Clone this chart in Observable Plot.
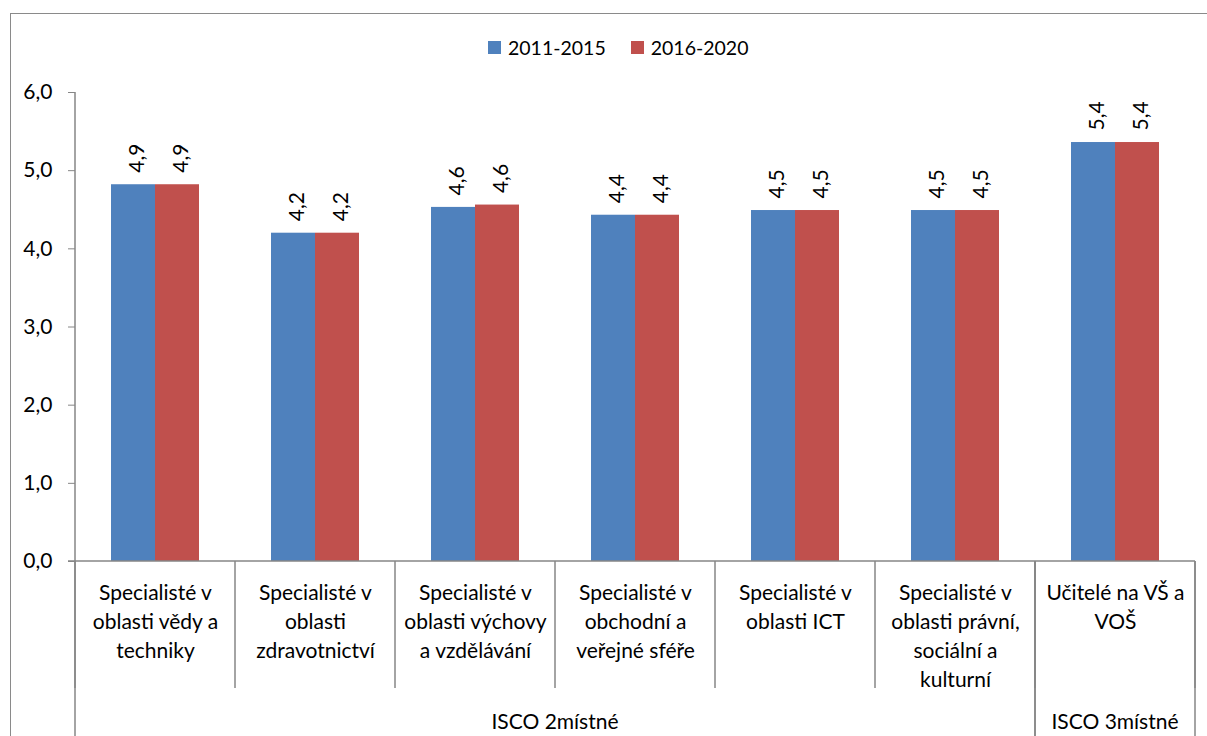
<!DOCTYPE html>
<html><head><meta charset="utf-8">
<script src="https://cdn.jsdelivr.net/npm/d3@7"></script>
<script src="https://cdn.jsdelivr.net/npm/@observablehq/plot@0.6"></script>
<style>
body{margin:0;background:#fff;font-family:Lato,"Open Sans",sans-serif;}
#frame{position:absolute;left:10px;top:13px;width:1300px;height:800px;border:1.5px solid #8a8a8a;box-sizing:border-box;}
#legend{position:absolute;top:36px;left:488px;display:flex;align-items:center;font-size:19.5px;color:#000;}
#legend .item{display:flex;align-items:center;margin-right:25px;}
#legend .sw{width:13px;height:13px;margin-right:7px;}
#chart{position:absolute;left:0;top:70px;}
</style></head>
<body>
<div id="frame"></div>
<div id="legend"></div>
<div id="chart"></div>
<script>
const categories = [
  "Specialisté v\noblasti vědy a\ntechniky",
  "Specialisté v\noblasti\nzdravotnictví",
  "Specialisté v\noblasti výchovy\na vzdělávání",
  "Specialisté v\nobchodní a\nveřejné sféře",
  "Specialisté v\noblasti ICT",
  "Specialisté v\noblasti právní,\nsociální a\nkulturní",
  "Učitelé na VŠ a\nVOŠ"
];
const groupOf = ["ISCO 2místné","ISCO 2místné","ISCO 2místné","ISCO 2místné","ISCO 2místné","ISCO 2místné","ISCO 3místné"];
const groupNames = ["ISCO 2místné","ISCO 3místné"];
const series = ["2011-2015","2016-2020"];
const values2011 = [4.82,4.20,4.53,4.43,4.49,4.49,5.36];
const values2016 = [4.82,4.20,4.56,4.43,4.49,4.49,5.36];
const labels2011 = ["4,9","4,2","4,6","4,4","4,5","4,5","5,4"];
const labels2016 = ["4,9","4,2","4,6","4,4","4,5","4,5","5,4"];
const yTicks = [0,1,2,3,4,5,6];
const colors = ["#4F81BD","#C0504D"];

const data = [];
categories.forEach((c,i)=>{
  data.push({cat:c, series:series[0], value:values2011[i], label:labels2011[i]});
  data.push({cat:c, series:series[1], value:values2016[i], label:labels2016[i]});
});

// legend
const lg = document.getElementById("legend");
series.forEach((s,i)=>{
  const it = document.createElement("div"); it.className="item";
  const sw = document.createElement("div"); sw.className="sw"; sw.style.background=colors[i];
  const tx = document.createElement("span"); tx.textContent=s;
  it.appendChild(sw); it.appendChild(tx); lg.appendChild(it);
});

const axisColor = "#868686";
const fs = 21;
const fmt = d => d.toFixed(1).replace(".", ",");

const plot = Plot.plot({
  width: 1207, height: 666,
  marginLeft: 75, marginRight: 12, marginTop: 22, marginBottom: 175,
  style: {fontFamily: "Lato, 'Open Sans', sans-serif", fontSize: fs + "px", color: "#000", background: "transparent"},
  fx: {domain: categories, padding: 0, axis: null, label: null},
  x: {domain: series, paddingInner: 0, paddingOuter: 0.78, axis: null},
  y: {domain: [0, 6], axis: null},
  color: {domain: series, range: colors},
  marks: [
    Plot.barY(data, {fx: "cat", x: "series", y: "value", fill: "series"}),
    Plot.text(data, {fx: "cat", x: "series", y: "value", text: "label", rotate: -90, textAnchor: "start", dy: -12, dx: 4, fontSize: fs, fill: "#000"}),
    Plot.axisY({ticks: yTicks, tickFormat: fmt, tickSize: 7, tickPadding: 16, stroke: axisColor, fill: "#000", fontSize: fs, label: null}),
    Plot.text(categories, {fx: d => d, text: d => d, frameAnchor: "bottom", lineAnchor: "top", dy: 18, lineHeight: 1.38, fontSize: fs, fill: "#000"})
  ]
});
document.getElementById("chart").appendChild(plot);

// separators and group labels drawn from the plot's scales
const fx = plot.scale("fx");
const y = plot.scale("y");
const y0 = y.apply(0);
const yTop = y.apply(6);
const bw = fx.bandwidth;
const svg = d3.select(plot);
const g = svg.append("g").attr("stroke", axisColor).attr("stroke-width", 1.5);
const left = fx.apply(categories[0]);
const right = fx.apply(categories[categories.length-1]) + bw;
g.append("line").attr("x1", left).attr("x2", left).attr("y1", yTop).attr("y2", y0);
g.append("line").attr("x1", left - 7).attr("x2", right).attr("y1", y0).attr("y2", y0);
const edges = categories.map(c => fx.apply(c)).concat([right]);
edges.forEach(x => {
  g.append("line").attr("x1", x).attr("x2", x).attr("y1", y0).attr("y2", y0 + 127);
});
groupNames.forEach(name => {
  const idx = groupOf.map((gname,i)=>gname===name?i:-1).filter(i=>i>=0);
  const gx0 = fx.apply(categories[idx[0]]);
  const gx1 = fx.apply(categories[idx[idx.length-1]]) + bw;
  [gx0, gx1].forEach(x => g.append("line").attr("x1", x).attr("x2", x).attr("y1", y0).attr("y2", 700));
  svg.append("text").attr("x", (gx0+gx1)/2).attr("y", y0 + 163).attr("text-anchor","middle")
    .attr("dominant-baseline","middle").attr("font-size", fs).attr("fill", "#000").text(name);
});
</script>
</body></html>
